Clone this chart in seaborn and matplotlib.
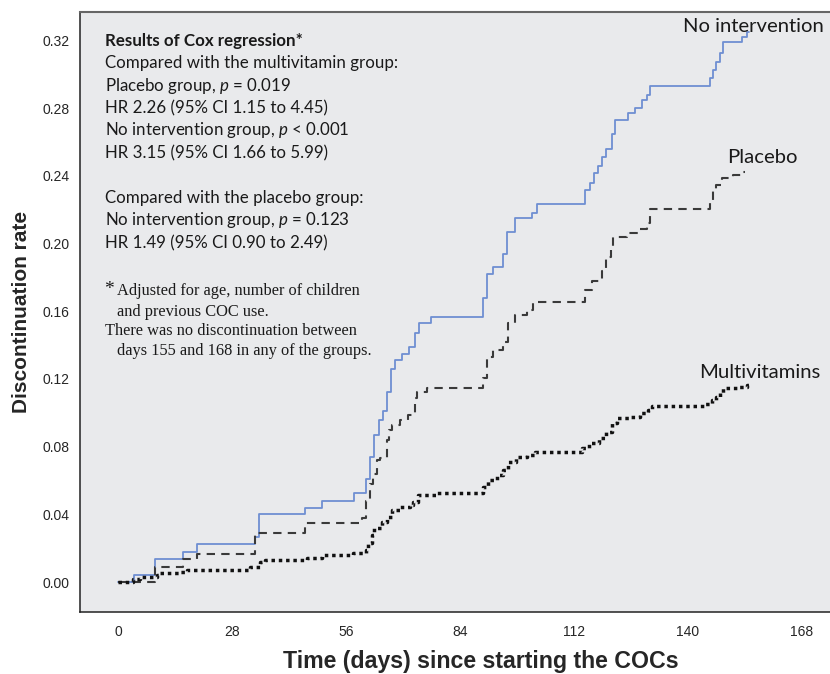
import numpy as np
import pandas as pd
import matplotlib
matplotlib.use('Agg')
import matplotlib.pyplot as plt
import seaborn as sns

# Step curves (day of change, cumulative discontinuation rate)
none_days = [0, 4, 9, 16, 19.5, 33.7, 34.6, 46, 50, 58, 61, 62, 63, 64, 65, 66, 67, 68,
             69.7, 71.5, 73, 74, 77, 89.7, 90.6, 92, 94.6, 95.5, 97.5, 101.7, 103, 114.7,
             116, 117, 118, 119, 120, 121.4, 122, 125.3, 127, 128.7, 130, 130.7, 145.5,
             146.2, 147, 148, 148.7, 153.3, 154.5, 155]
none_rate = [0.0, 0.004, 0.0136, 0.018, 0.0225, 0.0266, 0.040, 0.044, 0.048, 0.0526,
             0.061, 0.074, 0.087, 0.096, 0.101, 0.112, 0.126, 0.131, 0.135, 0.139, 0.147,
             0.153, 0.1566, 0.168, 0.182, 0.186, 0.194, 0.207, 0.215, 0.218, 0.2233, 0.2316,
             0.236, 0.2416, 0.246, 0.251, 0.256, 0.265, 0.273, 0.277, 0.280, 0.285, 0.2877,
             0.293, 0.298, 0.3025, 0.307, 0.3125, 0.319, 0.322, 0.325, 0.325]

placebo_days = [0, 9, 16, 19.4, 33.7, 46, 60, 61, 62, 62.7, 63.6, 64.4, 66, 66.5, 67.3,
                69.3, 71.3, 73, 73.5, 76, 89.7, 90.6, 92, 94.6, 95.8, 97.5, 100.4, 102,
                114.7, 116.5, 119, 120, 121, 121.7, 125, 127.8, 130, 130.7, 145.5, 146.2,
                147, 148.4, 151, 153.3, 154]
placebo_rate = [0.0, 0.009, 0.0136, 0.0165, 0.029, 0.035, 0.038, 0.048, 0.058, 0.064,
                0.072, 0.0733, 0.084, 0.090, 0.0928, 0.0957, 0.0987, 0.109, 0.112, 0.1146,
                0.1205, 0.133, 0.137, 0.142, 0.153, 0.158, 0.1607, 0.1654, 0.1725, 0.178,
                0.184, 0.192, 0.198, 0.204, 0.206, 0.2085, 0.212, 0.2204, 0.224, 0.2316,
                0.2346, 0.239, 0.2405, 0.2422, 0.2422]

multi_days = [0, 3.7, 5.4, 9.6, 10.3, 15.2, 17, 32.4, 35, 36, 46.4, 50, 57.7, 61, 61.5,
              62.4, 63, 64.9, 66, 67.3, 69.3, 71.7, 72.5, 73.7, 78.4, 89.7, 91, 93, 94.6,
              95.8, 97.8, 100.5, 102.5, 114, 115.8, 118.2, 120, 121.4, 122.6, 125.8, 128.3,
              130.2, 131.2, 144.2, 146, 147, 148, 148.7, 152, 154.5, 155.5]
multi_rate = [0.0, 0.0018, 0.003, 0.0041, 0.0053, 0.0059, 0.007, 0.0089, 0.0118, 0.013,
              0.014, 0.016, 0.017, 0.019, 0.023, 0.028, 0.032, 0.0355, 0.0384, 0.0425,
              0.0443, 0.0455, 0.0473, 0.0514, 0.0526, 0.0561, 0.060, 0.063, 0.066, 0.071,
              0.074, 0.075, 0.077, 0.079, 0.082, 0.085, 0.0886, 0.094, 0.097, 0.0975, 0.100,
              0.1016, 0.104, 0.105, 0.1075, 0.1093, 0.1117, 0.1146, 0.1152, 0.1164, 0.1164]

x_ticks = [0, 28, 56, 84, 112, 140, 168]
y_ticks = [0.00, 0.04, 0.08, 0.12, 0.16, 0.20, 0.24, 0.28, 0.32]

sns.set_style('white')
plt.rcParams['mathtext.fontset'] = 'custom'
plt.rcParams['mathtext.it'] = 'Lato:italic'
plt.rcParams['mathtext.rm'] = 'Lato'
narrow = ['Liberation Sans Narrow', 'Liberation Sans', 'DejaVu Sans']

fig = plt.figure(figsize=(8.3, 6.74), dpi=100)
ax = fig.add_axes([80 / 830, 62 / 674, 752 / 830, 600 / 674])
ax.set_facecolor('#e9eaec')

sns.lineplot(x=none_days, y=none_rate, ax=ax, drawstyle='steps-post', color='#6f8fd2',
             linewidth=1.3, estimator=None)
sns.lineplot(x=placebo_days, y=placebo_rate, ax=ax, drawstyle='steps-post', color='#3a3a3a',
             linewidth=1.5, linestyle=(0, (4, 3)), estimator=None)
sns.lineplot(x=multi_days, y=multi_rate, ax=ax, drawstyle='steps-post', color='#111111',
             linewidth=2.5, linestyle=(0, (1, 1.1)), estimator=None)

ax.set_xlim(-9.34, 175.4)
ax.set_ylim(-0.0177, 0.3368)
ax.set_xticks(x_ticks)
ax.set_xticklabels([str(t) for t in x_ticks], family=narrow, fontsize=10)
ax.set_yticks(y_ticks)
ax.set_yticklabels([f'{t:.2f}' for t in y_ticks], family=narrow, fontsize=10)
ax.set_yticks(np.arange(0.02, 0.33, 0.04), minor=True)
ax.tick_params(axis='x', direction='out', length=7, width=1, color='#222222', pad=2)
ax.tick_params(axis='y', which='major', direction='out', length=5.5, width=1, color='#222222', pad=2)
ax.tick_params(axis='y', which='minor', direction='out', length=3.5, width=1, color='#222222')

for s in ['left', 'bottom']:
    ax.spines[s].set_color('#222222')
    ax.spines[s].set_linewidth(1.1)
ax.spines['top'].set_color('#666666')
ax.spines['top'].set_linewidth(1.5)
ax.spines['right'].set_visible(False)

ax.set_xlabel('Time (days) since starting the COCs', family=narrow, fontsize=16.7,
              fontweight='bold', va='center')
ax.xaxis.set_label_coords(0.533, -0.083)
ax.set_ylabel('Discontinuation rate', family=narrow, fontsize=15, fontweight='bold', labelpad=8)

# curve labels
ax.text(156, 0.328, 'No intervention', family='Lato', fontsize=14.6, ha='center', va='center', color='#1a1a1a')
ax.text(158.2, 0.251, 'Placebo', family='Lato', fontsize=14.6, ha='center', va='center', color='#1a1a1a')
ax.text(157.6, 0.124, 'Multivitamins', family='Lato', fontsize=14.6, ha='center', va='center', color='#1a1a1a')

# Cox regression text box
lines = [
    (41, 'Results of Cox regression*', 'bold'),
    (63, 'Compared with the multivitamin group:', 'normal'),
    (86, 'Placebo group, $p$ = 0.019', 'normal'),
    (108, 'HR 2.26 (95% CI 1.15 to 4.45)', 'normal'),
    (130, 'No intervention group, $p$ < 0.001', 'normal'),
    (153, 'HR 3.15 (95% CI 1.66 to 5.99)', 'normal'),
    (198, 'Compared with the placebo group:', 'normal'),
    (220, 'No intervention group, $p$ = 0.123', 'normal'),
    (243, 'HR 1.49 (95% CI 0.90 to 2.49)', 'normal'),
]
for ypix, txt, w in lines:
    fig.text(105 / 830, 1 - ypix / 674, txt, family='Lato', fontsize=12.2, fontweight=w,
             va='center', ha='left', color='#1a1a1a')

notes = [
    (290, 104, '*', 14),
    (291, 117, 'Adjusted for age, number of children', 11.8),
    (312, 117, 'and previous COC use.', 11.8),
    (331, 105, 'There was no discontinuation between', 11.8),
    (351, 117, 'days 155 and 168 in any of the groups.', 11.8),
]
for ypix, xpix, txt, fs in notes:
    fig.text(xpix / 830, 1 - ypix / 674, txt, family='Liberation Serif', fontsize=fs,
             va='center', ha='left', color='#1a1a1a')

plt.savefig('out.png', dpi=100, facecolor='white')
plt.close()
